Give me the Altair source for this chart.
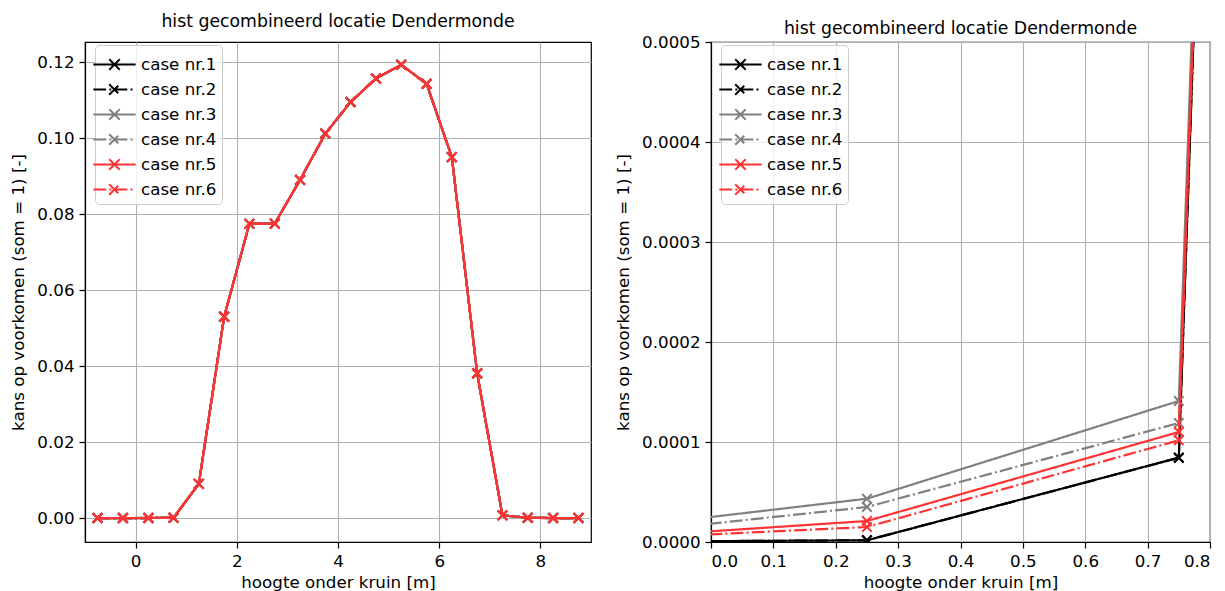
import altair as alt
import pandas as pd

# ---- data ----
hoogte = [-0.75, -0.25, 0.25, 0.75, 1.25, 1.75, 2.25, 2.75, 3.25, 3.75,
          4.25, 4.75, 5.25, 5.75, 6.25, 6.75, 7.25, 7.75, 8.25, 8.75]

case1 = [0.0, 0.0, 0.0000017, 0.0000843, 0.0090, 0.0530, 0.0775, 0.0775, 0.0890, 0.1012,
         0.1095, 0.1157, 0.1193, 0.1143, 0.0950, 0.0381, 0.0007, 0.0001, 0.0, 0.0]
case2 = [0.0, 0.0, 0.0000017, 0.0000843, 0.0090, 0.0530, 0.0775, 0.0775, 0.0890, 0.1012,
         0.1095, 0.1157, 0.1193, 0.1143, 0.0950, 0.0381, 0.0007, 0.0001, 0.0, 0.0]
case3 = [0.0, 0.0000067, 0.0000433, 0.000141, 0.0090, 0.0530, 0.0775, 0.0775, 0.0890, 0.1012,
         0.1095, 0.1157, 0.1193, 0.1143, 0.0950, 0.0381, 0.0007, 0.0001, 0.0, 0.0]
case4 = [0.0, 0.0000016, 0.0000350, 0.000119, 0.0090, 0.0530, 0.0775, 0.0775, 0.0890, 0.1012,
         0.1095, 0.1157, 0.1193, 0.1143, 0.0950, 0.0381, 0.0007, 0.0001, 0.0, 0.0]
case5 = [0.0, 0.0000004, 0.0000210, 0.000110, 0.0090, 0.0530, 0.0775, 0.0775, 0.0890, 0.1012,
         0.1095, 0.1157, 0.1193, 0.1143, 0.0950, 0.0381, 0.0007, 0.0001, 0.0, 0.0]
case6 = [0.0, 0.0000002, 0.0000150, 0.0001017, 0.0090, 0.0530, 0.0775, 0.0775, 0.0890, 0.1012,
         0.1095, 0.1157, 0.1193, 0.1143, 0.0950, 0.0381, 0.0007, 0.0001, 0.0, 0.0]

case_names = ["case nr.1", "case nr.2", "case nr.3", "case nr.4", "case nr.5", "case nr.6"]
case_values = [case1, case2, case3, case4, case5, case6]
case_colors = ["#000000", "#000000", "#808080", "#808080", "#ff3333", "#ff3333"]
case_dash = [[1, 0], [12.8, 3.2, 2, 3.2], [1, 0], [12.8, 3.2, 2, 3.2], [1, 0], [12.8, 3.2, 2, 3.2]]

titel = "hist gecombineerd locatie Dendermonde"
x_titel = "hoogte onder kruin [m]"
y_titel = "kans op voorkomen (som = 1) [-]"

rows = []
for name, vals in zip(case_names, case_values):
    for h, v in zip(hoogte, vals):
        rows.append({"case": name, "hoogte": h, "kans": v})
df = pd.DataFrame(rows)

FONT = "DejaVu Sans"
FS = 16.7
XSHAPE = "M-1,-1L1,1M-1,1L1,-1"
LEG_SHAPE = "M-1.6,0L1.6,0M-0.4,-0.4L0.4,0.4M-0.4,0.4L0.4,-0.4"

color_scale = alt.Scale(domain=case_names, range=case_colors)
dash_scale = alt.Scale(domain=case_names, range=case_dash)


def panel(xscale, yscale, xaxis, yaxis, w, h, title_dy, clip):
    legend = alt.Legend(
        title=None, orient="none", legendX=10, legendY=3,
        symbolType=LEG_SHAPE, symbolSize=700, symbolStrokeWidth=2,
        labelFont=FONT, labelFontSize=FS, labelColor="#000",
        fillColor="rgba(255,255,255,0.8)", strokeColor="#cccccc",
        cornerRadius=4, padding=5, rowPadding=1, labelOffset=12,
    )
    layers = []
    for name in case_names:
        base = alt.Chart(df).transform_filter(alt.datum.case == name)
        xenc = alt.X("hoogte:Q", scale=xscale, axis=xaxis)
        yenc = alt.Y("kans:Q", scale=yscale, axis=yaxis)
        line = base.mark_line(strokeWidth=2.2, clip=clip).encode(
            x=xenc, y=yenc,
            color=alt.Color("case:N", scale=color_scale, legend=legend),
            strokeDash=alt.StrokeDash("case:N", scale=dash_scale, legend=legend),
        )
        pts = base.mark_point(shape=XSHAPE, size=90, filled=False, strokeWidth=2,
                              opacity=1, clip=clip).encode(
            x=xenc, y=yenc,
            color=alt.Color("case:N", scale=color_scale, legend=None),
        )
        layers += [line, pts]
    return alt.layer(*layers).properties(
        width=w, height=h,
        title=alt.TitleParams(titel, font=FONT, fontSize=17.3, fontWeight="normal",
                              color="#000", offset=12, dy=title_dy),
    )


axis_common = dict(
    grid=True, gridColor="#b0b0b0", gridWidth=1.1,
    domainColor="#000", domainWidth=1.2, tickColor="#000", tickSize=6, tickWidth=1.2,
    labelFont=FONT, labelFontSize=FS, labelColor="#000", labelPadding=5,
    titleFont=FONT, titleFontSize=FS, titleColor="#000", titleFontWeight="normal",
)

left = panel(
    alt.Scale(domain=[-1, 9], nice=False, zero=False),
    alt.Scale(domain=[-0.0063, 0.1253], nice=False, zero=False),
    alt.Axis(title=x_titel, values=[0, 2, 4, 6, 8], format="d", titlePadding=5, **axis_common),
    alt.Axis(title=y_titel, values=[0, 0.02, 0.04, 0.06, 0.08, 0.10, 0.12], format=".2f",
             titlePadding=9, **axis_common),
    506, 500, 0, False,
)

right = panel(
    alt.Scale(domain=[0, 0.8], nice=False, zero=False),
    alt.Scale(domain=[0, 0.0005], nice=False, zero=False),
    alt.Axis(title=x_titel, values=[0, 0.1, 0.2, 0.3, 0.4, 0.5, 0.6, 0.7, 0.8], format=".1f",
             titlePadding=5, **axis_common),
    alt.Axis(title=y_titel, values=[0, 0.0001, 0.0002, 0.0003, 0.0004, 0.0005], format=".4f",
             titlePadding=9, **axis_common),
    499, 500, 15, True,
)

chart = alt.hconcat(left, right, spacing=23).resolve_scale(
    color="independent", strokeDash="independent"
).properties(
    padding={"left": 10, "top": 12, "right": 5, "bottom": 0}
).configure(background="white").configure_view(stroke="#000", strokeWidth=1.2)

chart.save("out.html", embed_options={"renderer": "svg", "actions": False})
